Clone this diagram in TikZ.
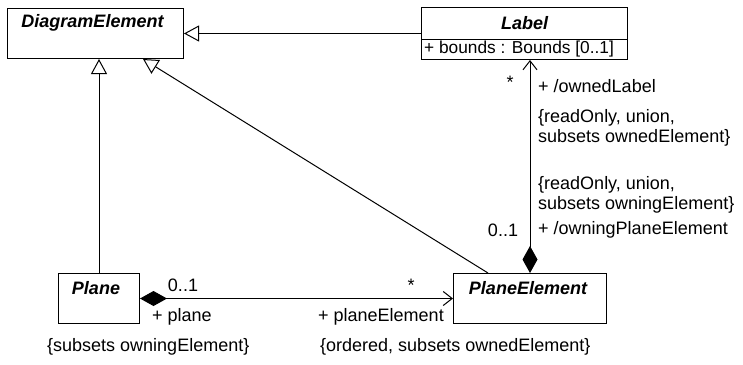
\documentclass[tikz,border=0pt]{standalone}
\usepackage{fontspec}
\setmainfont{Liberation Sans}
\usetikzlibrary{arrows.meta,calc}
\begin{document}
\begin{tikzpicture}[x=1pt,y=-1pt,
  every node/.style={font=\fontsize{18}{20}\selectfont, inner sep=0pt},
  cls/.style={draw, line width=1pt, anchor=north west},
  cname/.style={font=\fontsize{18}{20}\selectfont\bfseries\itshape},
  lbl/.style={anchor=west, align=left},
  conn/.style={line width=1pt},
  gen/.style={conn, -{Triangle[open, length=15pt, width=16pt, fill=white]}},
  comp/.style={conn, {Diamond[length=27pt, width=15pt]}-{Straight Barb[length=9pt, width=14pt]}}
]
\useasboundingbox (0,0) rectangle (743,364);
% classes
\node[cls, minimum width=176pt, minimum height=50pt] (de) at (7,8) {};
\node[cname] (den) at ($(de.north)+(-3,15)$) {DiagramElement};
\node[cls, minimum width=206pt, minimum height=52pt] (label) at (421,7) {};
\node[cname] (labeln) at ($(label.north)+(0,16)$) {Label};
\draw[line width=1pt] (421,39) -- (627,39);
\node[anchor=west, font=\fontsize{17.3}{20}\selectfont] (labela) at (424,49) {+ bounds : Bounds [0..1]};
\node[cls, minimum width=81pt, minimum height=50pt] (plane) at (58,273) {};
\node[cname] (planen) at ($(plane.north)+(-3,15)$) {Plane};
\node[cls, minimum width=153pt, minimum height=50pt] (pe) at (453,273) {};
\node[cname] (pen) at ($(pe.north)+(-2,15)$) {PlaneElement};
% generalizations
\draw[gen] (label.west) -- (de.east);
\draw[gen] (plane.north) -- (plane.north |- de.south);
\draw[gen] ($(pe.north west)+(35,0)$) -- ($(de.south west)+(136,0)$);
% compositions
\draw[comp] (pe.north) -- (pe.north |- label.south);
\draw[comp] (plane.east) -- (pe.west);
% association end labels
\node (s1) at (510,82) {*};
\node[lbl] (ol) at (538,86) {+ /ownedLabel};
\node[lbl] (c1) at (538,128) {\{readOnly, union,\\subsets ownedElement\}};
\node[lbl] (c2) at (538,195) {\{readOnly, union,\\subsets owningElement\}};
\node (m1) at (503,230) {0..1};
\node[lbl] (ope) at (538,230) {+ /owningPlaneElement};
\node (m2) at (183,285) {0..1};
\node (s2) at (411,285) {*};
\node[lbl] (pl) at (152,317) {+ plane};
\node[lbl] (pel) at (318,317) {+ planeElement};
\node[lbl] (c3) at (47,347) {\{subsets owningElement\}};
\node[lbl] (c4) at (320,347) {\{ordered, subsets ownedElement\}};
\end{tikzpicture}
\end{document}
